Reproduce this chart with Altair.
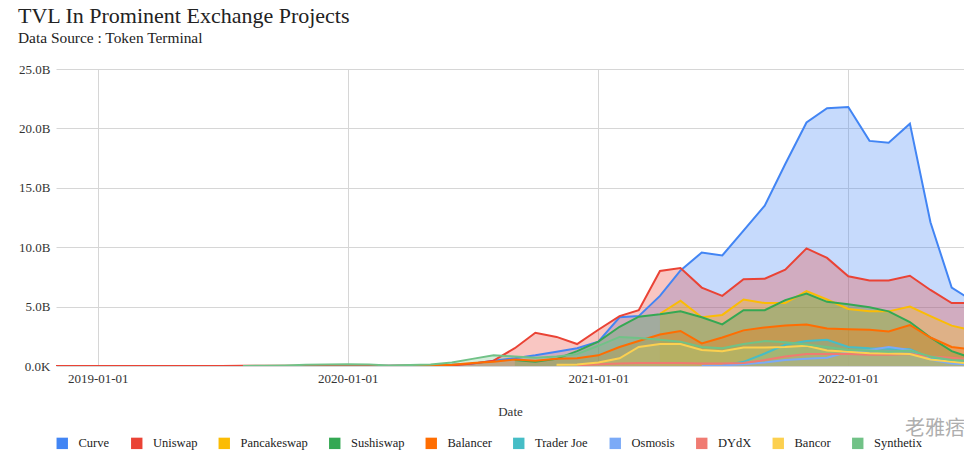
import altair as alt
import pandas as pd

# Monthly dates (first of month), 2018-11 .. 2022-07
months = pd.date_range("2018-11-01", "2022-07-01", freq="MS").strftime("%Y-%m-%d").tolist()

series = ["Curve", "Uniswap", "Pancakeswap", "Sushiswap", "Balancer",
          "Trader Joe", "Osmosis", "DYdX", "Bancor", "Synthetix"]
palette = ["#4285F4", "#EA4335", "#FBBC04", "#34A853", "#FF6D01",
           "#46BDC6", "#7BAAF7", "#F07B72", "#FCD04F", "#71C287"]

N = None
# TVL values in billions USD (None = no data yet)
curve = [N]*14 + [0.01, 0.02, 0.03, 0.04, 0.05,
                  0.1, 0.2, 0.45, 0.65, 0.9, 1.2, 1.5,
                  2.05, 4.1, 4.2, 5.9, 8.05, 9.55, 9.3, 11.4, 13.5, 17.0, 20.5, 21.7,
                  21.8, 18.95, 18.8, 20.4, 12.1, 6.6, 5.5]
uniswap = [0.0, 0.0, 0.0, 0.0, 0.0, 0.0, 0.01, 0.01, 0.01, 0.02, 0.02, 0.02, 0.02,
           0.02, 0.02, 0.02, 0.02, 0.02, 0.03,
           0.05, 0.2, 0.45, 1.5, 2.8, 2.45, 1.85,
           3.05, 4.2, 4.7, 8.0, 8.25, 6.6, 5.9, 7.3, 7.35, 8.1, 9.9, 9.1,
           7.55, 7.2, 7.2, 7.6, 6.4, 5.3, 5.3]
pancakeswap = [N]*29 + [4.4, 5.5, 4.1, 4.3, 5.6, 5.3, 5.3, 6.3, 5.6,
                        4.8, 4.6, 4.6, 5.0, 4.2, 3.4, 3.0]
sushiswap = [N]*22 + [0.5, 0.35, 0.6, 1.25,
                      2.05, 3.3, 4.15, 4.35, 4.6, 4.1, 3.5, 4.7, 4.7, 5.55, 6.1, 5.4,
                      5.2, 4.95, 4.6, 3.7, 2.4, 1.25, 0.65]
balancer = [N]*16 + [0.01, 0.02, 0.05, 0.1, 0.25, 0.35, 0.55, 0.45, 0.6, 0.65,
                     0.9, 1.6, 2.1, 2.65, 2.95, 1.9, 2.4, 3.0, 3.25, 3.4, 3.5, 3.15,
                     3.1, 3.05, 2.9, 3.45, 2.4, 1.6, 1.4]
traderjoe = [N]*32 + [0.02, 0.35, 1.05, 1.8, 2.1, 2.2,
                      1.6, 1.5, 1.45, 1.4, 0.65, 0.4, 0.2]
osmosis = [N]*31 + [0.01, 0.05, 0.15, 0.3, 0.5, 0.6, 0.7,
                    1.2, 1.35, 1.6, 1.35, 0.55, 0.2, 0.1]
dydx = [N]*25 + [0.05,
                 0.15, 0.2, 0.25, 0.25, 0.25, 0.2, 0.2, 0.25, 0.5, 0.8, 1.0, 1.0,
                 1.0, 0.95, 0.95, 1.0, 0.8, 0.7, 0.5]
bancor = [N]*24 + [0.1, 0.12,
                   0.3, 0.65, 1.6, 1.85, 1.85, 1.35, 1.25, 1.55, 1.55, 1.6, 1.7, 1.3,
                   1.2, 1.07, 1.05, 1.0, 0.55, 0.35, 0.2]
synthetix = [N]*9 + [0.01, 0.02, 0.05, 0.1, 0.13,
                     0.15, 0.12, 0.05, 0.08, 0.12, 0.3, 0.6, 0.9, 0.8, 0.7, 0.8, 1.0,
                     1.7, 2.45, 2.35, 2.2, 2.05, 1.6, 1.5, 1.85, 2.1, 2.0, 1.8, 1.6,
                     1.35, 1.3, 1.2, 1.3, 0.8, 0.5, 0.45]

all_values = [curve, uniswap, pancakeswap, sushiswap, balancer,
              traderjoe, osmosis, dydx, bancor, synthetix]

rows = []
for name, vals in zip(series, all_values):
    for d, v in zip(months, vals):
        if v is not None:
            rows.append({"date": d, "series": name, "tvl": v})
df = pd.DataFrame(rows)

FONT = "Liberation Serif"

xdom = [alt.DateTime(year=2018, month=11, date=1, utc=True),
        alt.DateTime(year=2022, month=6, date=19, utc=True)]
xvals = [alt.DateTime(year=y, month=1, date=1, utc=True) for y in (2019, 2020, 2021, 2022)]

X = alt.X("date:T",
          scale=alt.Scale(type="utc", domain=xdom),
          axis=alt.Axis(values=xvals, format="%Y-%m-%d", title="Date", grid=True,
                        ticks=False, domain=False, labelFont=FONT, labelFontSize=13,
                        labelColor="#333", labelPadding=6, labelFlush=False,
                        titleFont=FONT, titleFontSize=13, titleFontWeight="normal",
                        titleColor="#333", titlePadding=20, gridColor="#d6d6d6"))
Y = alt.Y("tvl:Q", stack=None,
          scale=alt.Scale(domain=[0, 25], nice=False),
          axis=alt.Axis(values=[0, 5, 10, 15, 20, 25], title=None, ticks=False,
                        domain=False, grid=True, gridColor="#d6d6d6",
                        labelExpr="datum.value == 0 ? '0.0K' : format(datum.value, '.1f') + 'B'",
                        labelFont=FONT, labelFontSize=13, labelColor="#333",
                        labelPadding=6))

cscale = alt.Scale(domain=series, range=palette)

base = alt.Chart(df)
area = base.mark_area(opacity=0.3, clip=True).encode(
    x=X, y=Y,
    color=alt.Color("series:N", scale=cscale, sort=series,
                    legend=alt.Legend(orient="none", legendX=0, legendY=368,
                                      direction="horizontal", columns=10, title=None,
                                      symbolType="square", symbolSize=130,
                                      symbolOpacity=1, symbolStrokeWidth=0,
                                      labelFont=FONT, labelFontSize=12.5,
                                      labelColor="#222", labelOffset=10,
                                      columnPadding=20.5)),
)
line = base.mark_line(strokeWidth=2, clip=True).encode(
    x=X, y=Y,
    color=alt.Color("series:N", scale=cscale, sort=series, legend=None),
)

watermark = alt.Chart(alt.Data(values=[{"t": "老雅痞"}])).mark_text(
    font="Noto Sans CJK SC", fontSize=20, color="#9a9a9a", opacity=0.8
).encode(text="t:N", x=alt.value(879), y=alt.value(360))

chart = alt.layer(area, line, watermark).properties(
    width=908, height=297,
    autosize=alt.AutoSizeParams(type="none"),
    padding={"left": 48, "top": 61, "right": 0, "bottom": 90},
    title=alt.Title("TVL In Prominent Exchange Projects",
                    subtitle="Data Source : Token Terminal",
                    anchor="start", frame="group", dx=-38, offset=16,
                    font=FONT, fontSize=22, fontWeight="normal", color="#222",
                    subtitleFont=FONT, subtitleFontSize=15.4, subtitleColor="#222",
                    subtitlePadding=3),
).configure_view(stroke=None)

chart.save("out.html", embed_options={"renderer": "svg", "actions": False})
